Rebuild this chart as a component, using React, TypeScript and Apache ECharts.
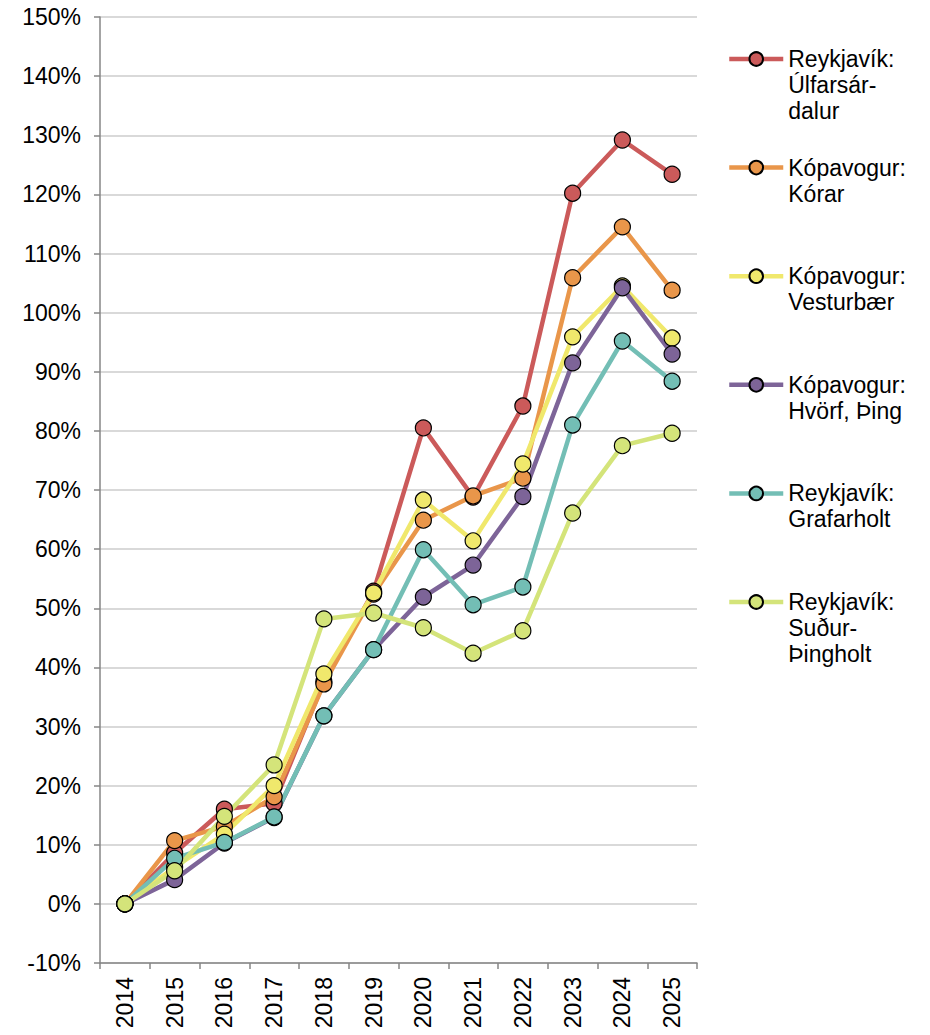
import React, { useEffect, useRef } from "react";
import * as echarts from "echarts";

// Years on the category axis
const years = ["2014", "2015", "2016", "2017", "2018", "2019", "2020", "2021", "2022", "2023", "2024", "2025"];

// Cumulative price change since 2014, in percent
const ulfarsardalur = [0, 8.6, 16.0, 17.0, 37.6, 52.9, 80.5, 68.8, 84.2, 120.2, 129.2, 123.4];
const korar = [0, 10.7, 13.1, 18.1, 37.2, 52.4, 64.9, 69.0, 72.0, 105.9, 114.5, 103.8];
const vesturbaer = [0, 6.2, 11.8, 20.0, 38.9, 52.6, 68.3, 61.4, 74.4, 95.9, 104.5, 95.7];
const hvorfThing = [0, 4.1, 10.3, 14.6, 31.8, 43.0, 51.9, 57.3, 68.9, 91.5, 104.2, 93.0];
const grafarholt = [0, 7.7, 10.4, 14.7, 31.8, 43.0, 59.9, 50.6, 53.6, 81.0, 95.2, 88.4];
const sudurThingholt = [0, 5.6, 14.8, 23.5, 48.2, 49.2, 46.7, 42.4, 46.2, 66.1, 77.5, 79.6];

// Series names and their legend text (wrapped lines)
const seriesNames = [
  "Reykjavík: Úlfarsárdalur",
  "Kópavogur: Kórar",
  "Kópavogur: Vesturbær",
  "Kópavogur: Hvörf, Þing",
  "Reykjavík: Grafarholt",
  "Reykjavík: Suður-Þingholt",
];
const legendLines = [
  ["Reykjavík:", "Úlfarsár-", "dalur"],
  ["Kópavogur:", "Kórar"],
  ["Kópavogur:", "Vesturbær"],
  ["Kópavogur:", "Hvörf, Þing"],
  ["Reykjavík:", "Grafarholt"],
  ["Reykjavík:", "Suður-", "Þingholt"],
];
const seriesData = [ulfarsardalur, korar, vesturbaer, hvorfThing, grafarholt, sudurThingholt];
const seriesColors = ["#CB5A5A", "#E9964A", "#F0E86C", "#7D6498", "#73BEB5", "#D4E47A"];

const FONT = "'Liberation Sans', Arial, Helvetica, sans-serif";
const FONT_SIZE = 23;
const LINE_H = 26;
const LEGEND_LEFT = 727;
const LEGEND_FIRST_Y = 59;
const LEGEND_STEP = 108.6;

export default function App() {
  const ref = useRef<HTMLDivElement>(null);

  useEffect(() => {
    if (!ref.current) return;
    const chart = echarts.init(ref.current, undefined, { renderer: "svg" });

    // One legend block per series; blank leading lines keep the marker
    // level with the first line of the wrapped name.
    const legends = seriesNames.map((name, i) => {
      const n = legendLines[i].length;
      const centerY = LEGEND_FIRST_Y + i * LEGEND_STEP;
      const lead = new Array(n - 1).fill(" ");
      return {
        data: [name],
        left: LEGEND_LEFT,
        top: centerY - ((2 * n - 1) * LINE_H) / 2,
        orient: "vertical",
        padding: 0,
        itemWidth: 54,
        itemHeight: 17,
        selectedMode: false,
        lineStyle: { width: 4.5 },
        formatter: () => [...lead, ...legendLines[i]].join("\n"),
        textStyle: {
          fontFamily: FONT,
          fontSize: FONT_SIZE,
          color: "#000",
          lineHeight: LINE_H,
        },
      };
    });

    chart.setOption({
      animation: false,
      backgroundColor: "#fff",
      grid: { left: 100, right: 233, top: 17, bottom: 72, containLabel: false },
      legend: legends,
      xAxis: {
        type: "category",
        data: years,
        boundaryGap: true,
        axisLine: { onZero: false, lineStyle: { color: "#868686", width: 1.5 } },
        axisTick: { show: true, length: 6, lineStyle: { color: "#868686", width: 1.5 } },
        axisLabel: {
          rotate: 90,
          margin: 14,
          fontFamily: FONT,
          fontSize: FONT_SIZE,
          color: "#000",
        },
        splitLine: { show: false },
      },
      yAxis: {
        type: "value",
        min: -10,
        max: 150,
        interval: 10,
        axisLine: { show: true, lineStyle: { color: "#868686", width: 1.5 } },
        axisTick: { show: true, length: 6, lineStyle: { color: "#868686", width: 1.5 } },
        axisLabel: {
          formatter: "{value}%",
          margin: 19,
          fontFamily: FONT,
          fontSize: FONT_SIZE,
          color: "#000",
        },
        splitLine: { show: true, lineStyle: { color: "#D9D9D9", width: 2 } },
      },
      series: seriesNames.map((name, i) => ({
        name,
        type: "line",
        data: seriesData[i],
        symbol: "circle",
        symbolSize: 16,
        color: seriesColors[i],
        lineStyle: { color: seriesColors[i], width: 4.5 },
        itemStyle: { color: seriesColors[i], borderColor: "#000", borderWidth: 1.2 },
        emphasis: { disabled: true },
      })),
    });

    return () => chart.dispose();
  }, []);

  return (
    <div
      ref={ref}
      style={{ position: "fixed", left: 0, top: 0, width: 930, height: 1035, background: "#fff" }}
    />
  );
}
